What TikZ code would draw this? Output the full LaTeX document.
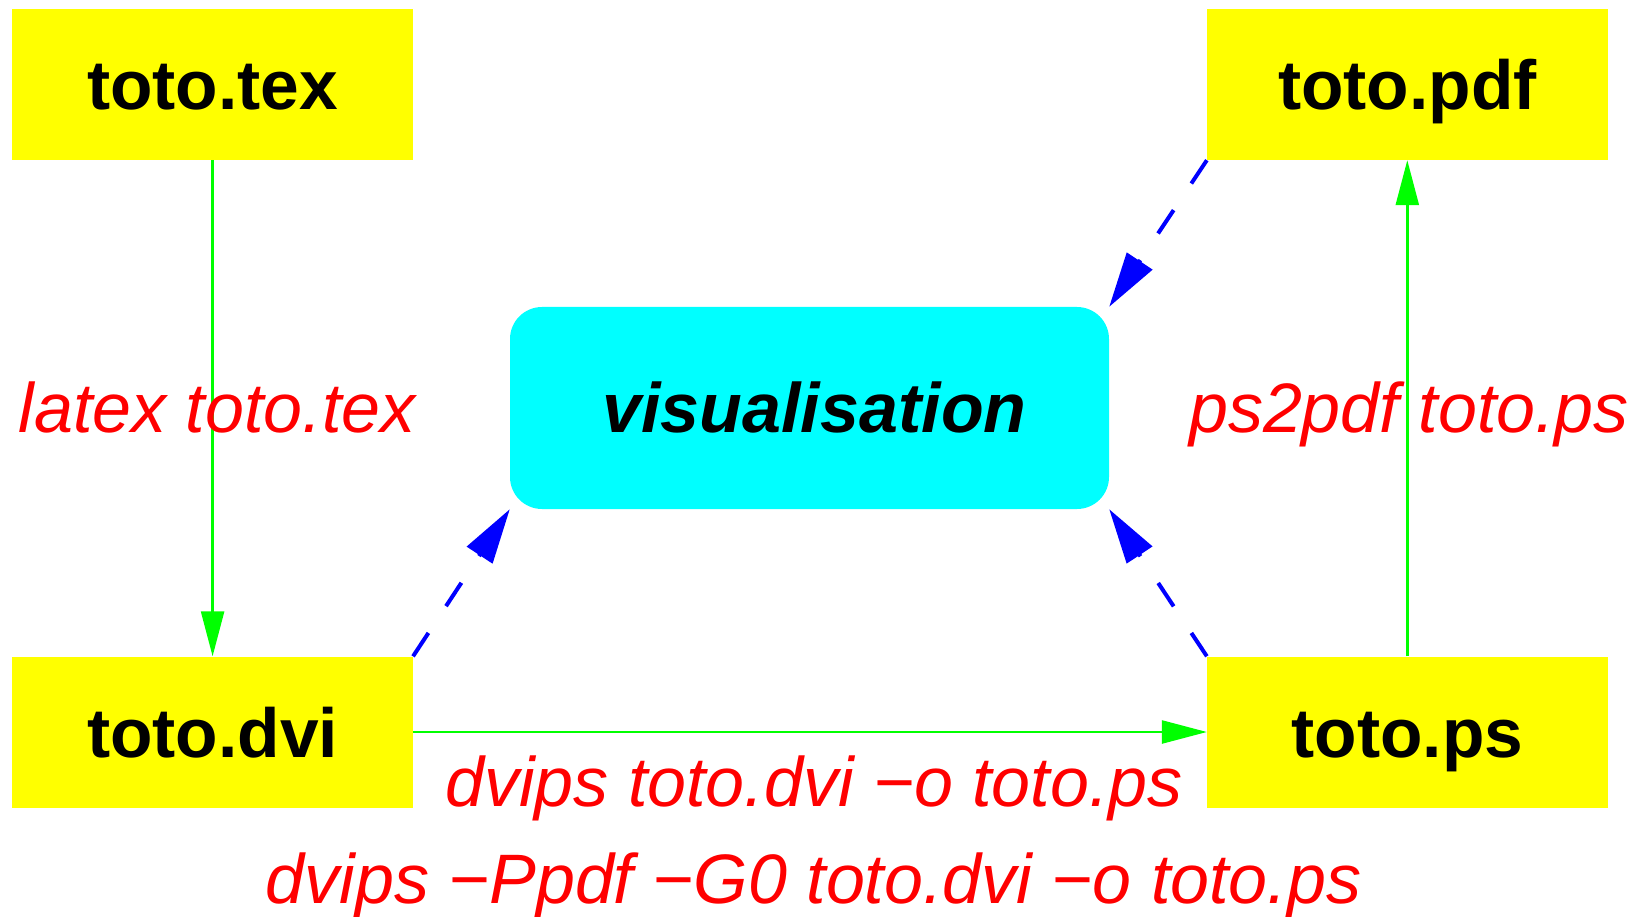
\documentclass[tikz,border=0pt]{standalone}
\usepackage{fontspec}
\setmainfont{Liberation Sans}
\usetikzlibrary{arrows.meta}
\definecolor{fileyellow}{RGB}{255,255,0}
\definecolor{viscyan}{RGB}{0,255,255}
\definecolor{convgreen}{RGB}{0,255,0}
\definecolor{seeblue}{RGB}{0,0,255}
\definecolor{cmdred}{RGB}{255,0,0}
\begin{document}
\begin{tikzpicture}[x=1pt,y=-1pt,
  file/.style={fill=fileyellow, inner sep=0pt, minimum width=400.5pt, minimum height=151pt, text height=50pt, text depth=0pt, font=\fontsize{69.5}{80}\selectfont\bfseries},
  viewbox/.style={fill=viscyan, rounded corners=32pt, inner sep=0pt, minimum width=599pt, minimum height=202pt, text height=48pt, text depth=0pt, font=\fontsize{70}{80}\selectfont\bfseries\itshape},
  cmd/.style={text=cmdred, inner sep=0pt, anchor=base, font=\fontsize{70}{80}\selectfont\itshape},
  conv/.style={draw=convgreen, line width=2.5pt, -{Triangle[length=45pt,width=23pt]}},
  see/.style={draw=seeblue, line width=4pt, dash pattern=on 28pt off 32pt, -{Triangle[length=55pt,width=30pt]}}
]
\useasboundingbox (0,0) rectangle (1642,917);
\node[file] (tex) at (212.6,84.5) {toto.tex};
\node[file] (pdf) at (1407.3,84.5) {toto.pdf};
\node[file] (dvi) at (212.6,732) {toto.dvi};
\node[file] (ps) at (1407.3,732) {toto.ps};
\node[viewbox] (vis) at (809.5,408) {\hspace*{10pt}visualisation};

\draw[conv] (tex.south) -- (dvi.north);
\draw[conv] (dvi.east) -- (ps.west);
\draw[conv] (ps.north) -- (pdf.south);

\draw[see] (pdf.south west) -- (vis.north east);
\draw[see] (dvi.north east) -- (vis.south west);
\draw[see] (ps.north west) -- (vis.south east);

\node[cmd] (l1) at (217,432.7) {latex toto.tex};
\node[cmd] (l2) at (1409,432.7) {ps2pdf toto.ps};
\node[cmd] (l3) at (814,806) {dvips toto.dvi −o toto.ps};
\node[cmd] (l4) at (813.5,903) {dvips −Ppdf −G0 toto.dvi −o toto.ps};
\end{tikzpicture}
\end{document}
